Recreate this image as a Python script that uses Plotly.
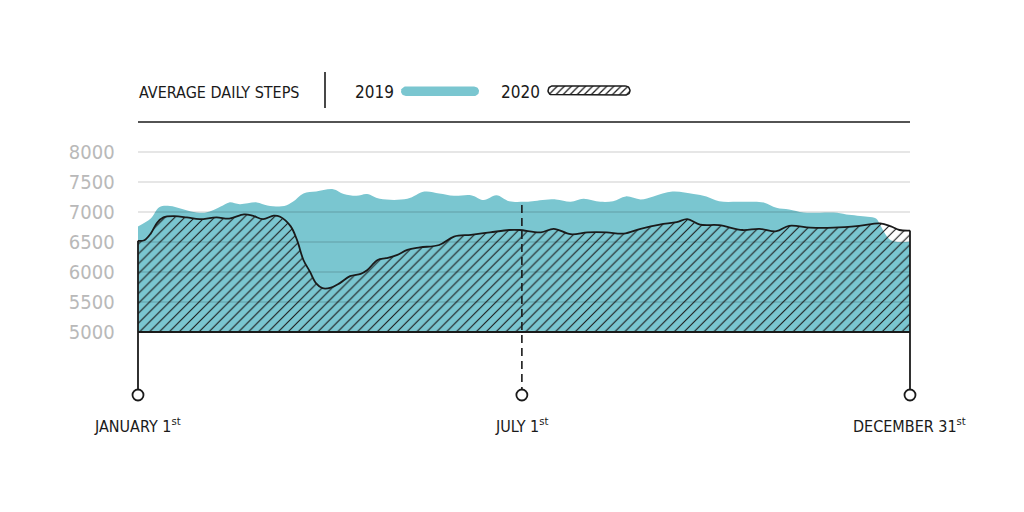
import numpy as np
import plotly.graph_objects as go

# ---------------- data ----------------
days_2019 = [0, 6, 10, 15, 20, 25, 32, 39, 43, 48, 56, 61, 69, 73, 78, 84, 92, 97, 103, 108,
             114, 127, 135, 142, 149, 157, 163, 169, 175, 182, 186, 197, 204, 210, 218, 224,
             230, 237, 243, 252, 262, 268, 274, 284, 295, 301, 307, 314, 328, 334, 344, 348,
             350, 355, 364]
steps_2019 = [6760, 6890, 7080, 7100, 7060, 7010, 6990, 7090, 7160, 7130, 7160, 7110, 7100,
              7170, 7310, 7340, 7380, 7300, 7270, 7300, 7220, 7220, 7340, 7310, 7270, 7280,
              7200, 7280, 7180, 7170, 7180, 7210, 7170, 7220, 7170, 7180, 7260, 7210, 7260,
              7340, 7300, 7260, 7180, 7170, 7160, 7070, 7040, 6990, 6990, 6960, 6920, 6890,
              6780, 6530, 6510]

days_2020 = [0, 3, 6, 9, 12, 17, 23, 29, 37, 43, 50, 54, 59, 64, 67, 72, 75, 78, 81, 84,
             87, 91, 95, 100, 105, 108, 113, 117, 122, 127, 133, 142, 149, 157, 166, 175, 180,
             190, 196, 204, 212, 221, 229, 237, 246, 254, 259, 265, 274, 285, 293, 301, 307,
             317, 328, 340, 350, 355, 359, 364]
steps_2020 = [6520, 6530, 6640, 6820, 6910, 6930, 6910, 6880, 6910, 6890, 6960, 6940, 6880,
              6940, 6920, 6760, 6530, 6200, 6010, 5810, 5730, 5740, 5810, 5930, 5970, 6030,
              6200, 6230, 6280, 6370, 6410, 6450, 6590, 6620, 6660, 6700, 6700, 6660, 6720,
              6630, 6660, 6660, 6640, 6720, 6790, 6830, 6880, 6790, 6780, 6700, 6720, 6680,
              6770, 6740, 6740, 6770, 6810, 6760, 6700, 6690]

y_ticks = [5000, 5500, 6000, 6500, 7000, 7500, 8000]
y_tick_labels = ["5000", "5500", "6000", "6500", "7000", "7500", "8000"]

marker_days = [0, 181, 364]
marker_labels = ["JANUARY 1<sup>st</sup>", "JULY 1<sup>st</sup>", "DECEMBER 31<sup>st</sup>"]

title_text = "AVERAGE DAILY STEPS"
series_names = ["2019", "2020"]

# ---------------- styling ----------------
BASE = 5000
MARKER_Y = 3950
LABEL_Y = 3450
TEAL = "#7ac6d0"
INK = "#1a1a1a"
FONT = "Liberation Sans Narrow, Arial Narrow, DejaVu Sans Condensed, sans-serif"
W, H = 1024, 512

x_first, x_last = days_2019[0], days_2019[-1]

fig = go.Figure()

# 2019 teal area
fig.add_trace(go.Scatter(x=[x_first, x_last], y=[BASE, BASE], mode="lines",
                         line=dict(width=0, color=TEAL), hoverinfo="skip", showlegend=False))
fig.add_trace(go.Scatter(x=days_2019, y=steps_2019, mode="lines", line_shape="spline",
                         line=dict(width=0, color=TEAL), fill="tonexty", fillcolor=TEAL,
                         showlegend=False, name=series_names[0]))

# 2020 hatched area
fig.add_trace(go.Scatter(x=[x_first, x_last], y=[BASE, BASE], mode="lines",
                         line=dict(width=0, color=INK), hoverinfo="skip", showlegend=False))
fig.add_trace(go.Scatter(x=days_2020, y=steps_2020, mode="lines", line_shape="spline",
                         line=dict(width=1.8, color=INK), fill="tonexty",
                         fillcolor="rgba(0,0,0,0)",
                         fillpattern=dict(shape="/", fgcolor=INK, bgcolor="rgba(0,0,0,0)",
                                          size=7, solidity=0.16, fillmode="replace"),
                         showlegend=False, name=series_names[1]))

# outline: bottom + both edges down to markers
fig.add_trace(go.Scatter(x=[x_first, x_last], y=[BASE, BASE], mode="lines",
                         line=dict(width=1.8, color=INK), showlegend=False, hoverinfo="skip"))
fig.add_trace(go.Scatter(x=[x_first, x_first], y=[MARKER_Y, steps_2020[0]], mode="lines",
                         line=dict(width=1.8, color=INK), showlegend=False, hoverinfo="skip"))
fig.add_trace(go.Scatter(x=[x_last, x_last], y=[MARKER_Y, steps_2020[-1]], mode="lines",
                         line=dict(width=1.8, color=INK), showlegend=False, hoverinfo="skip"))
# July 1st dashed marker line
mid_top = float(np.interp(marker_days[1], days_2019, steps_2019))
fig.add_trace(go.Scatter(x=[marker_days[1], marker_days[1]], y=[MARKER_Y, mid_top], mode="lines",
                         line=dict(width=1.6, color=INK, dash="8px,5px"),
                         showlegend=False, hoverinfo="skip"))
# open circle markers
fig.add_trace(go.Scatter(x=marker_days, y=[MARKER_Y] * len(marker_days), mode="markers",
                         marker=dict(size=11, color="white", line=dict(width=1.8, color=INK)),
                         cliponaxis=False, showlegend=False, hoverinfo="skip"))

# ---------------- legend swatches on an overlay pixel axis ----------------
def pill(x0, x1, yc, r, n=20):
    t = np.linspace(-np.pi / 2, np.pi / 2, n)
    right_x = (x1 - r) + r * np.cos(t)
    right_y = yc + r * np.sin(t)
    left_x = (x0 + r) - r * np.cos(t)
    left_y = yc - r * np.sin(t)
    xs = np.concatenate([right_x, left_x, right_x[:1]])
    ys = np.concatenate([right_y, left_y, right_y[:1]])
    return xs, ys

px, py = pill(401, 479, 91.3, 4.8)
fig.add_trace(go.Scatter(x=px, y=py, mode="lines", fill="toself", fillcolor=TEAL,
                         line=dict(width=0, color=TEAL), xaxis="x2", yaxis="y2",
                         showlegend=False, hoverinfo="skip"))
px, py = pill(548, 630, 90.5, 4.6)
fig.add_trace(go.Scatter(x=px, y=py, mode="lines", fill="toself", fillcolor="white",
                         fillpattern=dict(shape="/", fgcolor=INK, bgcolor="white", size=5,
                                          solidity=0.25, fillmode="replace"),
                         line=dict(width=1.5, color=INK), xaxis="x2", yaxis="y2",
                         showlegend=False, hoverinfo="skip"))

# ---------------- layout ----------------
PX_PER_DAY = 772 / 364.0
pad = 3
xdom = [(138 - pad * PX_PER_DAY) / W, (910 + pad * PX_PER_DAY) / W]
ydom = [1 - 450 / H, 1 - 122 / H]

shapes = []
for v in y_ticks[1:]:
    shapes.append(dict(type="line", xref="x", yref="y", x0=x_first, x1=x_last, y0=v, y1=v,
                       line=dict(color="rgba(0,0,0,0.2)", width=1), layer="above"))
# header rule
shapes.append(dict(type="line", xref="x", yref="paper", x0=x_first, x1=x_last,
                   y0=1 - 122 / H, y1=1 - 122 / H, line=dict(color=INK, width=1.6)))
# legend separator
shapes.append(dict(type="line", xref="paper", yref="paper", x0=325 / W, x1=325 / W,
                   y0=1 - 72 / H, y1=1 - 108 / H, line=dict(color=INK, width=1.6)))

annotations = [
    dict(text=title_text, xref="paper", yref="paper", x=137 / W, y=1 - 92 / H,
         xanchor="left", yanchor="middle", showarrow=False,
         font=dict(family=FONT, size=16, color=INK)),
    dict(text=series_names[0], xref="paper", yref="paper", x=353 / W, y=1 - 92 / H,
         xanchor="left", yanchor="middle", showarrow=False,
         font=dict(family=FONT, size=17, color=INK)),
    dict(text=series_names[1], xref="paper", yref="paper", x=499 / W, y=1 - 92 / H,
         xanchor="left", yanchor="middle", showarrow=False,
         font=dict(family=FONT, size=17, color=INK)),
]
for d, lab in zip(marker_days, marker_labels):
    annotations.append(dict(text=lab, x=d, y=LABEL_Y, xref="x", yref="y", showarrow=False,
                            xanchor="center", yanchor="middle",
                            font=dict(family=FONT, size=16, color=INK)))

fig.update_layout(
    width=W, height=H,
    margin=dict(l=0, r=0, t=0, b=0),
    paper_bgcolor="white", plot_bgcolor="rgba(0,0,0,0)",
    showlegend=False,
    xaxis=dict(domain=xdom, range=[x_first - pad, x_last + pad], visible=False,
               fixedrange=True),
    yaxis=dict(domain=ydom, range=[3033.33, 8500], tickvals=y_ticks, ticktext=y_tick_labels,
               showgrid=False, zeroline=False, showline=False, ticks="",
               ticklabelstandoff=16,
               tickfont=dict(family=FONT, size=20, color="#b9b9b9"), fixedrange=True),
    xaxis2=dict(domain=[0, 1], range=[0, W], visible=False, anchor="y2", fixedrange=True),
    yaxis2=dict(domain=[0, 1], range=[H, 0], visible=False, anchor="x2", fixedrange=True),
    shapes=shapes,
    annotations=annotations,
)

fig.write_html("out.html", config={"displayModeBar": False},
               post_script="document.body.style.margin='0px';document.body.style.overflow='hidden';")
